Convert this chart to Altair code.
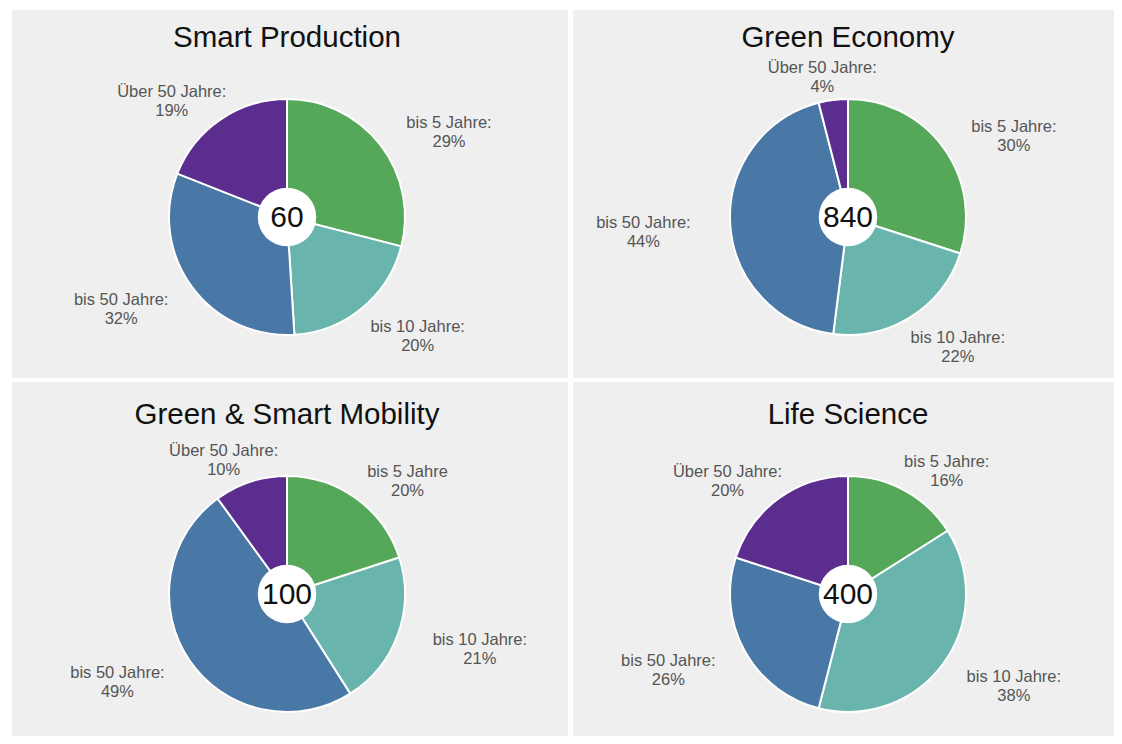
import math
import altair as alt
import pandas as pd

# ---- data -------------------------------------------------------------
categories = ["bis 5 Jahre", "bis 10 Jahre", "bis 50 Jahre", "Über 50 Jahre"]
colors = ["#55a75a", "#69b5ad", "#4a78a6", "#5a2d8e"]

titles = ["Smart Production", "Green Economy", "Green & Smart Mobility", "Life Science"]
totals = [60, 840, 100, 400]

smart_production = [29, 20, 32, 19]
green_economy = [30, 22, 44, 4]
smart_mobility = [20, 21, 49, 10]
life_science = [16, 38, 26, 20]

# label separators (the Mobility chart has "bis 5 Jahre" without colon)
sep_default = [":", ":", ":", ":"]
sep_mobility = ["", ":", ":", ":"]

FONT = "Liberation Sans"
R_OUT = 118
R_IN = 33
# labels sit on an ellipse around the pie (horizontal / vertical half-axes)
LAB_A = 205
LAB_B = 147
LINE_H = 19


def panel(title, total, values, seps, row, width, height):
    cx = 275
    cy = 207 if row == 0 else 212
    ty = 28 if row == 0 else 33
    df = pd.DataFrame({
        "cat": categories,
        "value": values,
        "order": list(range(len(categories))),
        "label": [f"{c}{s}\n{v}%" for c, s, v in zip(categories, seps, values)],
    })
    base = alt.Chart(df)
    arcs = base.mark_arc(outerRadius=R_OUT, stroke="white", strokeWidth=2).encode(
        theta=alt.Theta("value:Q", stack=True),
        color=alt.Color("cat:N", scale=alt.Scale(domain=categories, range=colors), legend=None),
        order=alt.Order("order:Q"),
        x=alt.value(cx),
        y=alt.value(cy),
    )
    labels = base.transform_window(
        cum="sum(value)", sort=[alt.SortField("order")], frame=[None, 0]
    ).transform_joinaggregate(
        tot="sum(value)"
    ).transform_calculate(
        mid="(datum.cum - datum.value / 2) / datum.tot * 2 * PI"
    ).transform_calculate(
        ang=f"atan2({LAB_A} * sin(datum.mid), {LAB_B} * cos(datum.mid))",
        lr=f"sqrt(pow({LAB_A} * sin(datum.mid), 2) + pow({LAB_B} * cos(datum.mid), 2))",
    ).mark_text(
        lineBreak="\n", fontSize=16.5, color="#555555", font=FONT,
        align="center", baseline="middle", lineHeight=LINE_H, dy=6 - LINE_H / 2,
    ).encode(
        theta=alt.Theta("ang:Q", scale=None, stack=False),
        radius=alt.Radius("lr:Q", scale=None),
        text="label:N",
        x=alt.value(cx),
        y=alt.value(cy),
    )
    cdf = pd.DataFrame({"total": [total], "title": [title]})
    cbase = alt.Chart(cdf)
    hole = cbase.mark_circle(size=math.pi * R_IN ** 2, color="white", opacity=1).encode(
        x=alt.value(cx), y=alt.value(cy)
    )
    num = cbase.mark_text(fontSize=30, color="#111111", font=FONT, baseline="middle").encode(
        text="total:Q", x=alt.value(cx), y=alt.value(cy + 1)
    )
    ttl = cbase.mark_text(fontSize=29.5, color="#111111", font=FONT, baseline="middle").encode(
        text="title:N", x=alt.value(cx), y=alt.value(ty)
    )
    return alt.layer(arcs, labels, hole, num, ttl).resolve_scale(theta="independent").properties(
        width=width, height=height
    )


p1 = panel(titles[0], totals[0], smart_production, sep_default, 0, 556, 368)
p2 = panel(titles[1], totals[1], green_economy, sep_default, 0, 541, 368)
p3 = panel(titles[2], totals[2], smart_mobility, sep_mobility, 1, 556, 354)
p4 = panel(titles[3], totals[3], life_science, sep_default, 1, 541, 354)

chart = alt.vconcat(
    alt.hconcat(p1, p2, spacing=5),
    alt.hconcat(p3, p4, spacing=5),
    spacing=4,
).properties(
    padding={"left": 4, "top": 2, "right": 0, "bottom": 0},
    background="white",
).configure_view(
    fill="#eeefee", stroke=None
)

chart.save("out.html", embed_options={"renderer": "svg", "actions": False})
